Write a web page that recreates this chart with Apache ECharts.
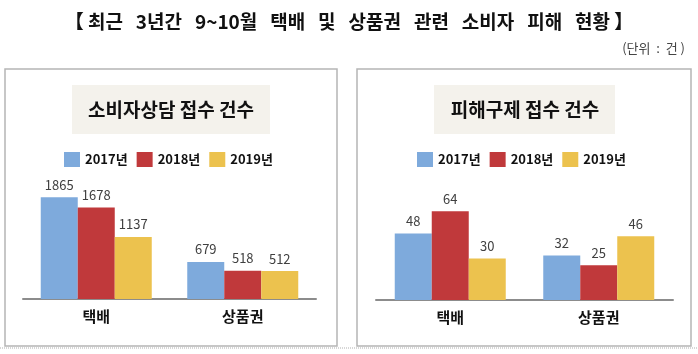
<!DOCTYPE html>
<html>
<head>
<meta charset="utf-8">
<script src="https://cdn.jsdelivr.net/npm/echarts@6/dist/echarts.min.js"></script>
<style>
  html, body { margin: 0; padding: 0; background: #fff; }
  #main { width: 698px; height: 354px; }
</style>
</head>
<body>
<div id="main"></div>
<script>
var categories = ['택배', '상품권'];
var years = ['2017년', '2018년', '2019년'];
var colors = ['#7eaadc', '#c0393b', '#ecc24e'];

// 소비자상담 접수 건수
var consult = [
    [1865, 679],
    [1678, 518],
    [1137, 512]
];
// 피해구제 접수 건수
var relief = [
    [48, 32],
    [64, 25],
    [30, 46]
];

var font = '"Noto Sans CJK KR", "Noto Sans", sans-serif';
var chart = echarts.init(document.getElementById('main'));

function makeSeries(data, idx) {
    return data.map(function (vals, i) {
        return {
            name: years[i],
            type: 'bar',
            xAxisIndex: idx,
            yAxisIndex: idx,
            barWidth: 37,
            barGap: '0%',
            itemStyle: { color: colors[i] },
            label: {
                show: true,
                position: 'top',
                distance: 6,
                color: '#404040',
                fontSize: 13,
                fontFamily: font
            },
            data: vals
        };
    });
}

function xAx(idx) {
    return {
        type: 'category',
        gridIndex: idx,
        data: categories,
        axisTick: { show: false },
        axisLine: { lineStyle: { color: '#8c8c8c', width: 2 } },
        axisLabel: {
            color: '#111',
            fontSize: 15,
            fontWeight: 'bold',
            fontFamily: font,
            margin: 10
        }
    };
}

function yAx(idx, max) {
    return {
        type: 'value',
        gridIndex: idx,
        min: 0,
        max: max,
        show: false,
        splitLine: { show: false }
    };
}

function legend(left) {
    return {
        data: years,
        left: left,
        top: 147,
        icon: 'rect',
        itemWidth: 16,
        itemHeight: 15,
        itemGap: 9,
        textStyle: { color: '#111', fontSize: 13, fontWeight: 'bold', fontFamily: font }
    };
}

var option = {
    animation: false,
    title: [
        {
            text: '【 최근   3년간   9~10월   택배   및   상품권   관련   소비자   피해   현황 】',
            left: 'center',
            top: 7,
            textStyle: { fontSize: 19, fontWeight: 'bold', color: '#111', fontFamily: font }
        },
        {
            text: '(단위  :  건 )',
            right: 8,
            top: 37,
            textStyle: { fontSize: 13, fontWeight: 'normal', color: '#444', fontFamily: font }
        }
    ],
    graphic: [
        { type: 'rect', shape: { x: 5, y: 69, width: 332, height: 277 }, style: { fill: 'none', stroke: '#b5b5b5', lineWidth: 1.5 } },
        { type: 'rect', shape: { x: 357, y: 69, width: 334, height: 277 }, style: { fill: 'none', stroke: '#b5b5b5', lineWidth: 1.5 } },
        { type: 'rect', shape: { x: 72, y: 85, width: 198, height: 49 }, style: { fill: '#f4f2ec' } },
        { type: 'rect', shape: { x: 434, y: 85, width: 181, height: 49 }, style: { fill: '#f4f2ec' } },
        { type: 'text', x: 171, y: 110, style: { text: '소비자상담 접수 건수', fill: '#111', font: 'bold 19px ' + font, textAlign: 'center', textVerticalAlign: 'middle' } },
        { type: 'text', x: 525, y: 110, style: { text: '피해구제 접수 건수', fill: '#111', font: 'bold 19px ' + font, textAlign: 'center', textVerticalAlign: 'middle' } },
        { type: 'line', shape: { x1: 0, y1: 348, x2: 698, y2: 348 }, style: { stroke: '#b0b0b0', lineWidth: 1, lineDash: [1, 1] } }
    ],
    legend: [legend(59), legend(412)],
    grid: [
        { left: 23, width: 293, top: 190, height: 109 },
        { left: 376, width: 297, top: 189, height: 111 }
    ],
    xAxis: [xAx(0), xAx(1)],
    yAxis: [yAx(0, 2000), yAx(1, 80)],
    series: makeSeries(consult, 0).concat(makeSeries(relief, 1))
};

chart.setOption(option);
</script>
</body>
</html>
